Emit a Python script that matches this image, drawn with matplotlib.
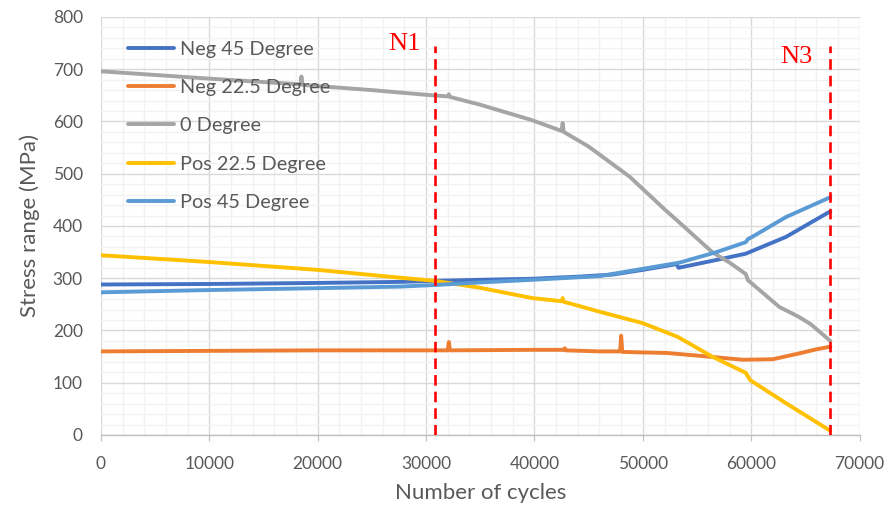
import matplotlib
matplotlib.use("Agg")
import matplotlib.pyplot as plt
from matplotlib.ticker import MultipleLocator

# values
x_neg45 = [0, 10000, 20000, 27600, 31000, 35000, 39800, 44000, 47200, 50000,
           53100, 53300, 56800, 59500, 63200, 67300]
y_neg45 = [288, 289, 291, 293, 295, 297, 299, 303, 307, 316,
           327, 320, 335, 347, 379, 428]

x_neg225 = [0, 10000, 20000, 30000, 32000, 32100, 32200, 40000, 42700, 42800,
            42900, 46000, 47900, 48000, 48100, 50000, 52200, 56100, 59200,
            62000, 64400, 66000, 67300]
y_neg225 = [160, 161, 162, 162, 162, 178, 162, 163, 163, 166,
            162, 160, 160, 190, 159, 158, 157, 150, 144,
            145, 156, 164, 169]

x_zero = [0, 10000, 18400, 18500, 18600, 25000, 30600, 32000, 32100, 32200,
          35000, 39700, 42500, 42600, 42700, 45000, 48800, 52000, 54000,
          56400, 58000, 59500, 59700, 60000, 62600, 64400, 65500, 67300]
y_zero = [696, 682, 671, 686, 670, 660, 650, 648, 652, 647,
          632, 603, 582, 597, 580, 552, 494, 432, 395,
          350, 330, 308, 296, 291, 245, 226, 212, 180]

x_pos225 = [0, 10000, 20000, 27600, 30800, 34900, 39800, 42500, 42600, 42700,
            46000, 50000, 53200, 56400, 59500, 59700, 59900, 63200, 67300]
y_pos225 = [344, 331, 316, 301, 295, 282, 262, 256, 262, 255,
            236, 214, 188, 150, 119, 112, 105, 61, 8]

x_pos45 = [0, 9000, 20000, 27600, 30800, 35000, 39800, 46000, 50000, 53400,
           56800, 59500, 59700, 60000, 63200, 67300]
y_pos45 = [273, 277, 281, 284, 287, 292, 297, 304, 318, 330,
           350, 369, 375, 378, 417, 455]

series = [
    ("Neg 45 Degree", x_neg45, y_neg45, "#4472C4"),
    ("Neg 22.5 Degree", x_neg225, y_neg225, "#ED7D31"),
    ("0 Degree", x_zero, y_zero, "#A5A5A5"),
    ("Pos 22.5 Degree", x_pos225, y_pos225, "#FFC000"),
    ("Pos 45 Degree", x_pos45, y_pos45, "#5B9BD5"),
]

marker_x = [30800, 67300]
marker_top = 745
marker_names = ["N1", "N3"]
marker_text_pos = [(28000, 737), (64200, 712)]

text_col = "#595959"
plt.rcParams['font.family'] = ['Lato', 'DejaVu Sans']

fig = plt.figure(figsize=(8.88, 5.14), dpi=100)
ax = fig.add_axes([0.1137, 0.1537, 0.8543, 0.8133])

for name, xs, ys, col in series:
    ax.plot(xs, ys, color=col, lw=2.8, label=name, solid_capstyle='round')

for xv in marker_x:
    ax.plot([xv, xv], [0, marker_top], color="#FF0000", lw=1.9,
            dashes=(4, 2.3), zorder=5)
for name, (tx, ty) in zip(marker_names, marker_text_pos):
    ax.text(tx, ty, name, color="#FF0000", fontsize=19, ha='center',
            va='baseline', family='Liberation Serif')

ax.set_xlim(0, 70000)
ax.set_ylim(0, 800)
ax.xaxis.set_major_locator(MultipleLocator(10000))
ax.xaxis.set_minor_locator(MultipleLocator(2000))
ax.yaxis.set_major_locator(MultipleLocator(100))
ax.yaxis.set_minor_locator(MultipleLocator(20))
ax.grid(which='major', color="#D9D9D9", lw=1.0)
ax.grid(which='minor', color="#F2F2F2", lw=1.0)
ax.set_axisbelow(True)

for s in ['top', 'right', 'left']:
    ax.spines[s].set_visible(False)
ax.spines['bottom'].set_color("#BFBFBF")
ax.spines['bottom'].set_linewidth(1.0)

ax.tick_params(axis='x', which='major', length=4, color="#BFBFBF",
               labelsize=12.5, labelcolor=text_col, pad=11)
ax.tick_params(axis='y', which='major', length=0, labelsize=12.5,
               labelcolor=text_col, pad=13)
ax.tick_params(which='minor', length=0)

ax.set_xlabel("Number of cycles", fontsize=16, color=text_col, labelpad=8)
ax.set_ylabel("Stress range (MPa)", fontsize=16, color=text_col, labelpad=9)

ax.legend(loc='upper left', bbox_to_anchor=(0.025, 0.962), frameon=False,
          fontsize=14.3, labelcolor=text_col, handlelength=2.3,
          handletextpad=0.3, labelspacing=1.07, borderaxespad=0)

fig.savefig("out.png", dpi=100)
